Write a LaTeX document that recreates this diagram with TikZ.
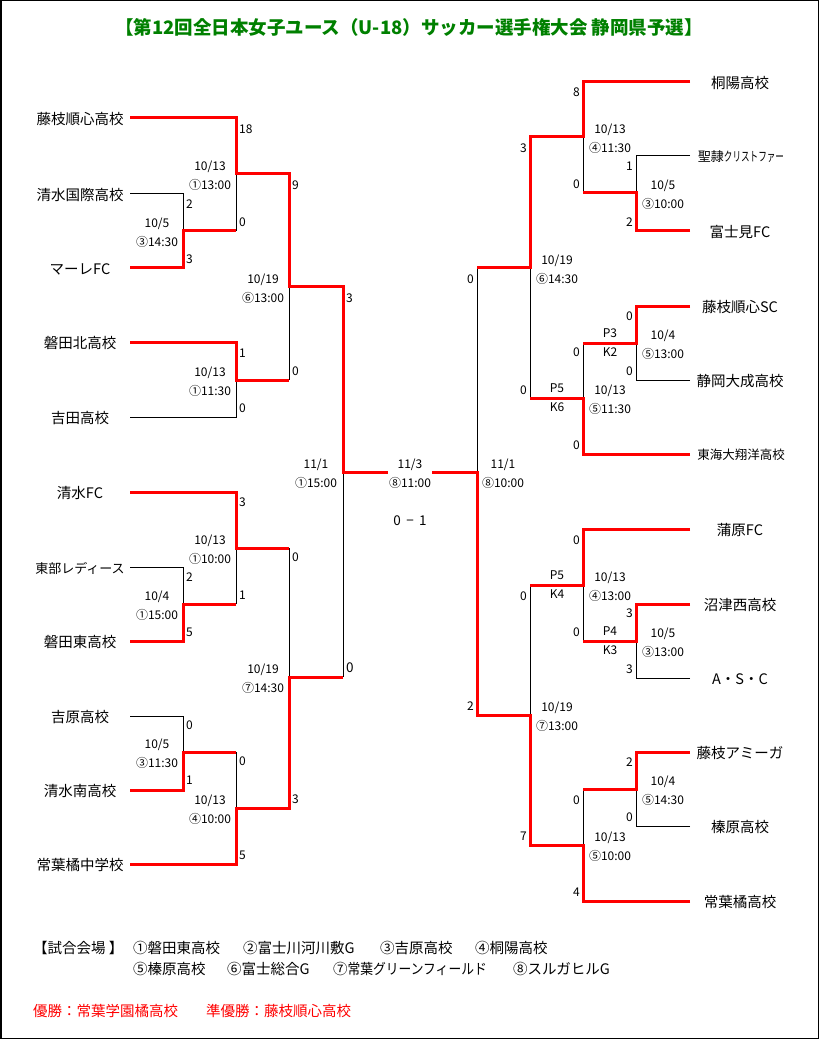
\documentclass[tikz,border=0pt]{standalone}
\usepackage{fontspec}
\setmainfont{Noto Sans CJK JP}
\usepackage{xcolor}
\usepackage{graphicx}
\usepackage{tikz}
\definecolor{titlegreen}{RGB}{0,128,0}
\tikzset{
	win/.style={draw=red, line width=3pt},
	lose/.style={draw=black, line width=1pt},
	team/.style={inner sep=0pt, font=\fontsize{14.5}{16}\selectfont},
	datelbl/.style={inner sep=0pt, align=center, font=\fontsize{12}{19}\selectfont},
	scoreL/.style={anchor=west, inner sep=0pt, font=\fontsize{12}{14}\selectfont},
	scoreR/.style={anchor=east, inner sep=0pt, font=\fontsize{12}{14}\selectfont},
	venue/.style={anchor=west, inner sep=0pt, font=\fontsize{14.5}{16}\selectfont}
}

\begin{document}
\begin{tikzpicture}[x=1pt, y=-1pt]
	\useasboundingbox (0,0) rectangle (820,1040);
	\draw[line width=1.5pt] (0.75,0.75) rectangle (818.5,1038.5);
	\node[inner sep=0pt, text=titlegreen, font=\fontsize{18.5}{20}\selectfont\bfseries] (title) at (409,27) {【第12回全日本女子ユース（U-18）サッカー選手権大会 静岡県予選】};

	\coordinate (L1) at (130,118);
	\coordinate (L2) at (130,194);
	\coordinate (L3) at (130,268);
	\coordinate (L4) at (130,342);
	\coordinate (L5) at (130,417);
	\coordinate (L6) at (130,492);
	\coordinate (L7) at (130,567);
	\coordinate (L8) at (130,641);
	\coordinate (L9) at (130,716);
	\coordinate (L10) at (130,790);
	\coordinate (L11) at (130,864);
	\coordinate (LA) at (183,231);
	\coordinate (LB) at (236,174);
	\coordinate (LC) at (236,380);
	\coordinate (LD) at (289,287);
	\coordinate (LF) at (183,604);
	\coordinate (LE) at (236,548);
	\coordinate (LI) at (183,752);
	\coordinate (LH) at (236,808);
	\coordinate (LG) at (289,677);
	\coordinate (LS) at (343,472);
	\coordinate (FL) at (388,472);

	\coordinate (R1) at (690,82);
	\coordinate (R2) at (690,156);
	\coordinate (R3) at (690,231);
	\coordinate (R4) at (690,306);
	\coordinate (R5) at (690,380);
	\coordinate (R6) at (690,454);
	\coordinate (R7) at (690,529);
	\coordinate (R8) at (690,604);
	\coordinate (R9) at (690,678);
	\coordinate (R10) at (690,752);
	\coordinate (R11) at (690,826);
	\coordinate (R12) at (690,901);
	\coordinate (RA) at (636,193);
	\coordinate (RB) at (583,137);
	\coordinate (RC) at (636,343);
	\coordinate (RD) at (583,398);
	\coordinate (RE) at (530,268);
	\coordinate (RF) at (636,641);
	\coordinate (RG) at (583,585);
	\coordinate (RH) at (636,789);
	\coordinate (RI) at (583,845);
	\coordinate (RJ) at (530,715);
	\coordinate (RS) at (477,472);
	\coordinate (FR) at (432,472);

	\node[team] (nL1) at (80,119) {藤枝順心高校};
	\node[team] (nL2) at (80,195) {清水国際高校};
	\node[team] (nL3) at (80,269) {マーレFC};
	\node[team] (nL4) at (80,343) {磐田北高校};
	\node[team] (nL5) at (80,418) {吉田高校};
	\node[team] (nL6) at (80,493) {清水FC};
	\node[team, font=\fontsize{13}{15}\selectfont] (nL7) at (80,568) {東部レディース};
	\node[team] (nL8) at (80,642) {磐田東高校};
	\node[team] (nL9) at (80,717) {吉原高校};
	\node[team] (nL10) at (80,791) {清水南高校};
	\node[team] (nL11) at (80,865) {常葉橘中学校};

	\node[team] (nR1) at (740,83) {桐陽高校};
	\node[team, font=\fontsize{13}{15}\selectfont] (nR2) at (741,157) {聖隷\scalebox{0.66}[1]{クリストファー}};
	\node[team] (nR3) at (740,232) {富士見FC};
	\node[team] (nR4) at (740,307) {藤枝順心SC};
	\node[team] (nR5) at (740,381) {静岡大成高校};
	\node[team, font=\fontsize{12.5}{14}\selectfont] (nR6) at (741,455) {東海大翔洋高校};
	\node[team] (nR7) at (740,530) {蒲原FC};
	\node[team] (nR8) at (740,605) {沼津西高校};
	\node[team] (nR9) at (740,679) {A・S・C};
	\node[team] (nR10) at (740,753) {藤枝アミーガ};
	\node[team] (nR11) at (740,827) {榛原高校};
	\node[team] (nR12) at (740,902) {常葉橘高校};

	\draw[lose] (L2) -- (L2 -| LA) -- (LA);
	\draw[lose] (L5) -- (L5 -| LC) -- (LC);
	\draw[lose] (L7) -- (L7 -| LF) -- (LF);
	\draw[lose] (L9) -- (L9 -| LI) -- (LI);
	\draw[lose] (LA -| LB) -- (LB);
	\draw[lose] (LC -| LD) -- (LD);
	\draw[lose] (LF -| LE) -- (LE);
	\draw[lose] (LI -| LH) -- (LH);
	\draw[lose] (LE -| LG) -- (LG);
	\draw[lose] (LG -| LS) -- (LS);
	\draw[lose] (R2) -- (R2 -| RA) -- (RA);
	\draw[lose] (R5) -- (R5 -| RC) -- (RC);
	\draw[lose] (R9) -- (R9 -| RF) -- (RF);
	\draw[lose] (R11) -- (R11 -| RH) -- (RH);
	\draw[lose] (RA -| RB) -- (RB);
	\draw[lose] (RC -| RD) -- (RD);
	\draw[lose] (RD -| RE) -- (RE);
	\draw[lose] (RF -| RG) -- (RG);
	\draw[lose] (RG -| RJ) -- (RJ);
	\draw[lose] (RH -| RI) -- (RI);
	\draw[lose] (RE -| RS) -- (RS);

	\draw[win] (L1) -- (L1 -| LB) -- (LB) -- (LB -| LD) -- (LD) -- (LD -| LS) -- (LS) -- (FL);
	\draw[win] (L3) -- (L3 -| LA) -- (LA) -- (LA -| LB);
	\draw[win] (L4) -- (L4 -| LC) -- (LC) -- (LC -| LD);
	\draw[win] (L6) -- (L6 -| LE) -- (LE) -- (LE -| LG);
	\draw[win] (L8) -- (L8 -| LF) -- (LF) -- (LF -| LE);
	\draw[win] (L10) -- (L10 -| LI) -- (LI) -- (LI -| LH);
	\draw[win] (L11) -- (L11 -| LH) -- (LH) -- (LH -| LG) -- (LG) -- (LG -| LS);
	\draw[win] (R1) -- (R1 -| RB) -- (RB) -- (RB -| RE) -- (RE) -- (RE -| RS);
	\draw[win] (R3) -- (R3 -| RA) -- (RA) -- (RA -| RB);
	\draw[win] (R4) -- (R4 -| RC) -- (RC) -- (RC -| RD);
	\draw[win] (R6) -- (R6 -| RD) -- (RD) -- (RD -| RE);
	\draw[win] (R7) -- (R7 -| RG) -- (RG) -- (RG -| RJ);
	\draw[win] (R8) -- (R8 -| RF) -- (RF) -- (RF -| RG);
	\draw[win] (R10) -- (R10 -| RH) -- (RH) -- (RH -| RI);
	\draw[win] (R12) -- (R12 -| RI) -- (RI) -- (RI -| RJ) -- (RJ) -- (RJ -| RS) -- (RS) -- (FR);

	\node[datelbl] (dLA) at (157,232.5) {10/5\\③14:30};
	\node[datelbl] (dLB) at (210,175.5) {10/13\\①13:00};
	\node[datelbl] (dLC) at (210,381.5) {10/13\\①11:30};
	\node[datelbl] (dLD) at (263,288.5) {10/19\\⑥13:00};
	\node[datelbl] (dLF) at (157,605.5) {10/4\\①15:00};
	\node[datelbl] (dLE) at (210,549.5) {10/13\\①10:00};
	\node[datelbl] (dLI) at (157,753.5) {10/5\\③11:30};
	\node[datelbl] (dLH) at (210,809.5) {10/13\\④10:00};
	\node[datelbl] (dLG) at (263,678.5) {10/19\\⑦14:30};
	\node[datelbl] (dLS) at (316,473.5) {11/1\\①15:00};
	\node[datelbl] (dF) at (410,473.5) {11/3\\⑧11:00};
	\node[datelbl] (dRS) at (503,473.5) {11/1\\⑧10:00};
	\node[datelbl] (dRA) at (663,194.5) {10/5\\③10:00};
	\node[datelbl] (dRB) at (610,138.5) {10/13\\④11:30};
	\node[datelbl] (dRC) at (663,344.5) {10/4\\⑤13:00};
	\node[datelbl] (dRD) at (610,399.5) {10/13\\⑤11:30};
	\node[datelbl] (dRE) at (557,269.5) {10/19\\⑥14:30};
	\node[datelbl] (dRF) at (663,642.5) {10/5\\③13:00};
	\node[datelbl] (dRG) at (610,586.5) {10/13\\④13:00};
	\node[datelbl] (dRH) at (663,790.5) {10/4\\⑤14:30};
	\node[datelbl] (dRI) at (610,846.5) {10/13\\⑤10:00};
	\node[datelbl] (dRJ) at (557,716.5) {10/19\\⑦13:00};

	\node[datelbl] (pRC) at (610,343) {P3\\K2};
	\node[datelbl] (pRD) at (557,398) {P5\\K6};
	\node[datelbl] (pRF) at (610,641) {P4\\K3};
	\node[datelbl] (pRG) at (557,585) {P5\\K4};
	\node[inner sep=0pt, font=\fontsize{13.5}{15}\selectfont] (res) at (410,521) {0 \,−\, 1};

	\node[scoreL] (sLA1) at (186,204) {2};
	\node[scoreL] (sLA2) at (186,259) {3};
	\node[scoreL] (sLB1) at (239,129) {18};
	\node[scoreL] (sLB2) at (239,222) {0};
	\node[scoreL] (sLC1) at (239,353) {1};
	\node[scoreL] (sLC2) at (239,408) {0};
	\node[scoreL] (sLD1) at (292,185) {9};
	\node[scoreL] (sLD2) at (292,371) {0};
	\node[scoreL] (sLF1) at (186,577) {2};
	\node[scoreL] (sLF2) at (186,632) {5};
	\node[scoreL] (sLE1) at (239,502) {3};
	\node[scoreL] (sLE2) at (239,595) {1};
	\node[scoreL] (sLI1) at (186,725) {0};
	\node[scoreL] (sLI2) at (186,780) {1};
	\node[scoreL] (sLH1) at (239,761) {0};
	\node[scoreL] (sLH2) at (239,855) {5};
	\node[scoreL] (sLG1) at (292,557) {0};
	\node[scoreL] (sLG2) at (292,799) {3};
	\node[scoreL] (sLS1) at (346,298) {3};
	\node[scoreL, font=\fontsize{13.5}{15}\selectfont] (sLS2) at (346,668) {0};

	\node[scoreR] (sRA1) at (633,166) {1};
	\node[scoreR] (sRA2) at (633,222) {2};
	\node[scoreR] (sRB1) at (580,92) {8};
	\node[scoreR] (sRB2) at (580,184) {0};
	\node[scoreR] (sRC1) at (633,316) {0};
	\node[scoreR] (sRC2) at (633,371) {0};
	\node[scoreR] (sRD1) at (580,352) {0};
	\node[scoreR] (sRD2) at (580,445) {0};
	\node[scoreR] (sRE1) at (527,148) {3};
	\node[scoreR] (sRE2) at (527,390) {0};
	\node[scoreR] (sRF1) at (633,613) {3};
	\node[scoreR] (sRF2) at (633,669) {3};
	\node[scoreR] (sRG1) at (580,540) {0};
	\node[scoreR] (sRG2) at (580,632) {0};
	\node[scoreR] (sRH1) at (633,762) {2};
	\node[scoreR] (sRH2) at (633,817) {0};
	\node[scoreR] (sRI1) at (580,800) {0};
	\node[scoreR] (sRI2) at (580,892) {4};
	\node[scoreR] (sRJ1) at (527,596) {0};
	\node[scoreR] (sRJ2) at (527,836) {7};
	\node[scoreR] (sRS1) at (474,279) {0};
	\node[scoreR] (sRS2) at (474,706) {2};

	\node[venue] (v0) at (33,948) {【試合会場 】};
	\node[venue] (v1) at (133,948) {①磐田東高校};
	\node[venue] (v2) at (243,948) {②富士川河川敷G};
	\node[venue] (v3) at (380,948) {③吉原高校};
	\node[venue] (v4) at (475,948) {④桐陽高校};
	\node[venue] (v5) at (133,969) {⑤榛原高校};
	\node[venue] (v6) at (227,969) {⑥富士総合G};
	\node[venue] (v7) at (333,969) {⑦\scalebox{0.88}[1]{常葉グリーンフィールド}};
	\node[venue] (v8) at (513,969) {⑧スルガヒルG};
	\node[venue, text=red] (w1) at (33,1011) {優勝：常葉学園橘高校};
	\node[venue, text=red] (w2) at (206,1011) {準優勝：藤枝順心高校};
\end{tikzpicture}
\end{document}
